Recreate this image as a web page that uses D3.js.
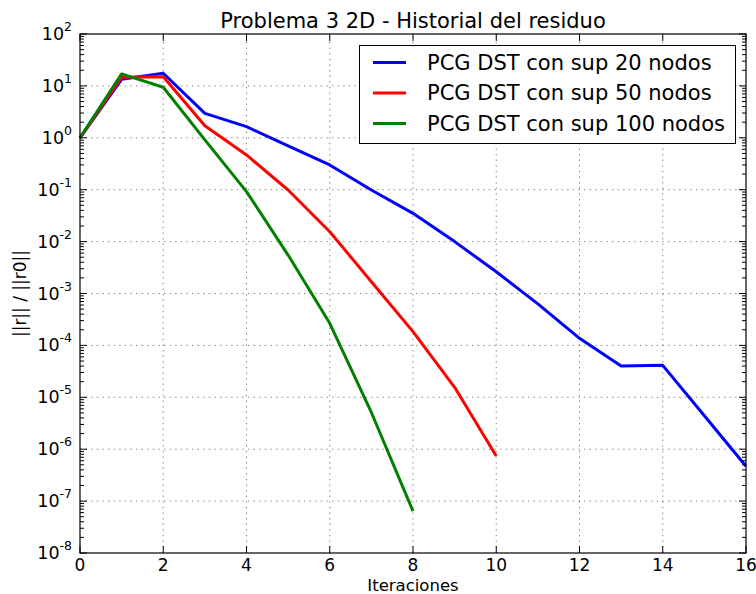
<!DOCTYPE html>
<html>
  <head>
    <title>Historial del residuo</title>
<meta charset="utf-8">

<!-- Load d3.js -->
<script src="https://d3js.org/d3.v7.min.js"></script>
<style>
  body { margin: 0; background: #fff; }
  svg text { font-family: "DejaVu Sans", sans-serif; fill: #000; }
</style>
</head>
<body>
<div id="chart"></div>

<script>

// data
var iteraciones20 = [0, 1, 2, 3, 4, 5, 6, 7, 8, 9, 10, 11, 12, 13, 14, 15, 16]
var residuo20 = [1, 13.4, 17.5, 2.96, 1.64, 0.70, 0.30, 0.0986, 0.035, 0.0100, 0.00263, 6.3e-4, 1.37e-4, 4.0e-5, 4.13e-5, 4.4e-6, 4.7e-7]
var iteraciones50 = [0, 1, 2, 3, 4, 5, 6, 7, 8, 9, 10]
var residuo50 = [1, 14.6, 15.0, 1.71, 0.467, 0.0986, 0.0155, 1.69e-3, 1.84e-4, 1.56e-5, 7.4e-7]
var iteraciones100 = [0, 1, 2, 3, 4, 5, 6, 7, 8]
var residuo100 = [1, 17.0, 9.4, 0.91, 0.092, 5.5e-3, 2.67e-4, 5.1e-6, 6.4e-8]

var etiquetas = ["PCG DST con sup 20 nodos", "PCG DST con sup 50 nodos", "PCG DST con sup 100 nodos"]
var colores = ["#0000ff", "#ff0000", "#008000"]
var xTicks = [0, 2, 4, 6, 8, 10, 12, 14, 16]
var yExps = [2, 1, 0, -1, -2, -3, -4, -5, -6, -7, -8]

var series = [
  { name: etiquetas[0], color: colores[0], x: iteraciones20, y: residuo20 },
  { name: etiquetas[1], color: colores[1], x: iteraciones50, y: residuo50 },
  { name: etiquetas[2], color: colores[2], x: iteraciones100, y: residuo100 }
]

// set the dimensions and margins of the graph
var width = 756
var height = 594
var margin = { top: 34, right: 10, bottom: 41, left: 80 }

var svg = d3.select("#chart")
  .append("svg")
    .attr("width", width)
    .attr("height", height)

var x = d3.scaleLinear()
  .domain([0, 16])
  .range([margin.left, width - margin.right])

var y = d3.scaleLog()
  .domain([1e-8, 1e2])
  .range([height - margin.bottom, margin.top])

var x0 = x.range()[0], x1 = x.range()[1]
var y0 = y.range()[0], y1 = y.range()[1]

// grid
var grid = svg.append("g")
  .attr("stroke", "#000")
  .attr("stroke-width", 0.6)
  .attr("stroke-dasharray", "1.4,4.2")
  .attr("opacity", 0.8)

grid.selectAll(".gx")
  .data(xTicks.slice(1, -1))
  .enter()
  .append("line")
    .attr("x1", function(d){ return x(d) })
    .attr("x2", function(d){ return x(d) })
    .attr("y1", y0)
    .attr("y2", y1)

grid.selectAll(".gy")
  .data(yExps.slice(1, -1))
  .enter()
  .append("line")
    .attr("x1", x0)
    .attr("x2", x1)
    .attr("y1", function(d){ return y(Math.pow(10, d)) })
    .attr("y2", function(d){ return y(Math.pow(10, d)) })

// lines
var line = d3.line()
  .x(function(d){ return x(d[0]) })
  .y(function(d){ return y(d[1]) })

svg.append("g")
  .selectAll("path")
  .data(series)
  .enter()
  .append("path")
    .attr("fill", "none")
    .attr("stroke", function(d){ return d.color })
    .attr("stroke-width", 3)
    .attr("stroke-linejoin", "round")
    .attr("d", function(d){ return line(d3.zip(d.x, d.y)) })

// ticks (inside, on all four sides)
var ticks = svg.append("g").attr("stroke", "#000").attr("stroke-width", 1)

xTicks.forEach(function(t){
  ticks.append("line").attr("x1", x(t)).attr("x2", x(t)).attr("y1", y0).attr("y2", y0 - 7)
  ticks.append("line").attr("x1", x(t)).attr("x2", x(t)).attr("y1", y1).attr("y2", y1 + 7)
})

yExps.forEach(function(e){
  var yy = y(Math.pow(10, e))
  ticks.append("line").attr("x1", x0).attr("x2", x0 + 7).attr("y1", yy).attr("y2", yy)
  ticks.append("line").attr("x1", x1).attr("x2", x1 - 7).attr("y1", yy).attr("y2", yy)
  if (e > -8) {
    for (var m = 2; m <= 9; m++) {
      var ym = y(m * Math.pow(10, e - 1))
      ticks.append("line").attr("x1", x0).attr("x2", x0 + 4).attr("y1", ym).attr("y2", ym)
      ticks.append("line").attr("x1", x1).attr("x2", x1 - 4).attr("y1", ym).attr("y2", ym)
    }
  }
})

// frame
svg.append("rect")
  .attr("x", x0)
  .attr("y", y1)
  .attr("width", x1 - x0)
  .attr("height", y0 - y1)
  .attr("fill", "none")
  .attr("stroke", "#000")
  .attr("stroke-width", 1.2)

// tick labels
svg.append("g")
  .selectAll("text")
  .data(xTicks)
  .enter()
  .append("text")
    .attr("x", function(d){ return x(d) })
    .attr("y", 571)
    .attr("text-anchor", "middle")
    .style("font-size", "17px")
    .text(function(d){ return d })

var ylab = svg.append("g")
  .selectAll("text")
  .data(yExps)
  .enter()
  .append("text")
    .attr("x", 72)
    .attr("y", function(d){ return y(Math.pow(10, d)) + 6 })
    .attr("text-anchor", "end")
    .style("font-size", "17.5px")
ylab.append("tspan").text("10")
ylab.append("tspan")
  .attr("dy", -9)
  .style("font-size", "12.5px")
  .text(function(d){ return d })

// title and axis labels
svg.append("text")
  .attr("x", (x0 + x1) / 2)
  .attr("y", 28)
  .attr("text-anchor", "middle")
  .style("font-size", "21px")
  .text("Problema 3 2D - Historial del residuo")

svg.append("text")
  .attr("x", (x0 + x1) / 2)
  .attr("y", 591)
  .attr("text-anchor", "middle")
  .style("font-size", "16.5px")
  .text("Iteraciones")

svg.append("text")
  .attr("transform", "translate(26," + ((y0 + y1) / 2) + ") rotate(-90)")
  .attr("text-anchor", "middle")
  .style("font-size", "17px")
  .text("||r|| / ||r0||")

// legend
var legend = svg.append("g")
legend.append("rect")
  .attr("x", 359.5)
  .attr("y", 45.5)
  .attr("width", 376)
  .attr("height", 98)
  .attr("fill", "#fff")
  .attr("stroke", "#000")
  .attr("stroke-width", 1)

var item = legend.selectAll(".item")
  .data(series)
  .enter()
  .append("g")
    .attr("transform", function(d, i){ return "translate(0," + (62.5 + i * 30.5) + ")" })
item.append("line")
  .attr("x1", 373)
  .attr("x2", 406)
  .attr("stroke", function(d){ return d.color })
  .attr("stroke-width", 3)
item.append("text")
  .attr("x", 427)
  .attr("y", 7)
  .style("font-size", "21px")
  .text(function(d){ return d.name })

</script>
</body>
</html>
